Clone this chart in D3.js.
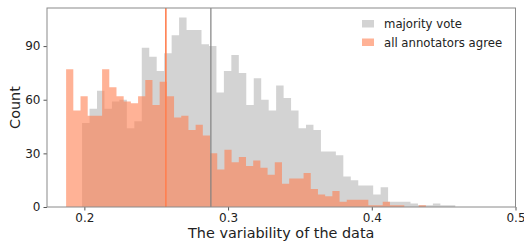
<!DOCTYPE html>
<html>
<head>
<meta charset="utf-8">
<script src="https://cdn.jsdelivr.net/npm/d3@7"></script>
<style>
  body { margin: 0; background: #fff; }
  svg { display: block; font-family: "DejaVu Sans", sans-serif; }
</style>
</head>
<body>
<div id="chart"></div>
<script>
// histogram bins (start of first bin, bin width)
const majorityBinStart = 0.1984;
const majorityBinWidth = 0.005194;
const agreeBinStart = 0.1873;
const agreeBinWidth = 0.005007;

// counts per bin
const majorityCounts = [47, 55, 65, 55, 59, 60, 44, 48, 89, 84, 76, 86, 96, 106, 99, 99, 91, 90, 64, 76,
  85, 75, 57, 72, 60, 54, 68, 61, 54, 44, 46, 43, 31, 31, 29, 17, 15, 12, 12, 7,
  11, 3, 3, 3, 2, 1, 1, 2, 1, 1];
const agreeCounts = [77, 54, 62, 51, 51, 77, 67, 62, 59, 58, 62, 71, 57, 70, 62, 50, 51, 43, 46, 40,
  30, 21, 32, 25, 28, 23, 26, 22, 18, 25, 13, 16, 16, 19, 10, 7, 6, 9, 3, 4,
  4, 4, 1, 1, 3, 1, 1, 0, 0, 1];

// mean lines
const majorityMean = 0.288;
const agreeMean = 0.2567;

const xTicks = [0.2, 0.3, 0.4, 0.5];
const yTicks = [0, 30, 60, 90];
const legendLabels = ['majority vote', 'all annotators agree'];

const width = 524, height = 241;
const margin = { top: 8, right: 8.5, bottom: 34, left: 47 };

const svg = d3.select('#chart').append('svg')
  .attr('width', width)
  .attr('height', height);

const x = d3.scaleLinear().domain([0.174, 0.5]).range([margin.left, width - margin.right]);
const y = d3.scaleLinear().domain([0, 111.3]).range([height - margin.bottom, margin.top]);

// turn counts into step points at bin edges
function steps(start, w, counts) {
  const pts = counts.map((c, i) => ({ x0: start + i * w, c }));
  pts.push({ x0: start + counts.length * w, c: counts[counts.length - 1] });
  return pts;
}

const area = d3.area()
  .curve(d3.curveStepAfter)
  .x(d => x(d.x0))
  .y0(y(0))
  .y1(d => y(d.c));

const g = svg.append('g');

g.append('path')
  .datum(steps(majorityBinStart, majorityBinWidth, majorityCounts))
  .attr('d', area)
  .attr('fill', '#d3d3d3');

g.append('path')
  .datum(steps(agreeBinStart, agreeBinWidth, agreeCounts))
  .attr('d', area)
  .attr('fill', '#ff7f50')
  .attr('fill-opacity', 0.6);

// mean lines
g.append('line')
  .attr('x1', x(majorityMean)).attr('x2', x(majorityMean))
  .attr('y1', y.range()[0]).attr('y2', y.range()[1])
  .attr('stroke', '#808080')
  .attr('stroke-opacity', 0.75)
  .attr('stroke-width', 1.6);

g.append('line')
  .attr('x1', x(agreeMean)).attr('x2', x(agreeMean))
  .attr('y1', y.range()[0]).attr('y2', y.range()[1])
  .attr('stroke', '#ff7f50')
  .attr('stroke-width', 1.6);

// axes
const xAxis = svg.append('g')
  .attr('transform', `translate(0,${height - margin.bottom})`)
  .call(d3.axisBottom(x).tickValues(xTicks).tickFormat(d3.format('.1f')).tickSize(3.5).tickPadding(3));

const yAxis = svg.append('g')
  .attr('transform', `translate(${margin.left},0)`)
  .call(d3.axisLeft(y).tickValues(yTicks).tickSize(3.5).tickPadding(3));

[xAxis, yAxis].forEach(a => {
  a.select('.domain').remove();
  a.selectAll('.tick line').attr('stroke', '#555');
  a.selectAll('.tick text')
    .attr('fill', '#222')
    .style('font-size', '12px')
    .style('font-family', '"DejaVu Sans", sans-serif');
});

// frame
svg.append('rect')
  .attr('x', margin.left)
  .attr('y', margin.top)
  .attr('width', width - margin.left - margin.right)
  .attr('height', height - margin.top - margin.bottom)
  .attr('fill', 'none')
  .attr('stroke', '#8a8a8a')
  .attr('stroke-width', 1);

// axis labels, centred on the plot area
svg.append('text')
  .attr('x', (margin.left + width - margin.right) / 2)
  .attr('y', 238)
  .attr('text-anchor', 'middle')
  .attr('fill', '#222')
  .style('font-size', '14.4px')
  .text('The variability of the data');

svg.append('text')
  .attr('transform', `translate(20,${(margin.top + height - margin.bottom) / 2}) rotate(-90)`)
  .attr('text-anchor', 'middle')
  .attr('fill', '#222')
  .style('font-size', '14.4px')
  .text('Count');

// legend
const legendColors = ['#d3d3d3', '#ffb296'];
const legend = svg.append('g').attr('transform', 'translate(362,20)');
legendLabels.forEach((label, i) => {
  const row = legend.append('g').attr('transform', `translate(0,${i * 18.5})`);
  row.append('rect')
    .attr('width', 12).attr('height', 7.5)
    .attr('fill', legendColors[i]);
  row.append('text')
    .attr('x', 22).attr('y', 8)
    .attr('fill', '#222')
    .style('font-size', '11.7px')
    .text(label);
});
</script>
</body>
</html>
